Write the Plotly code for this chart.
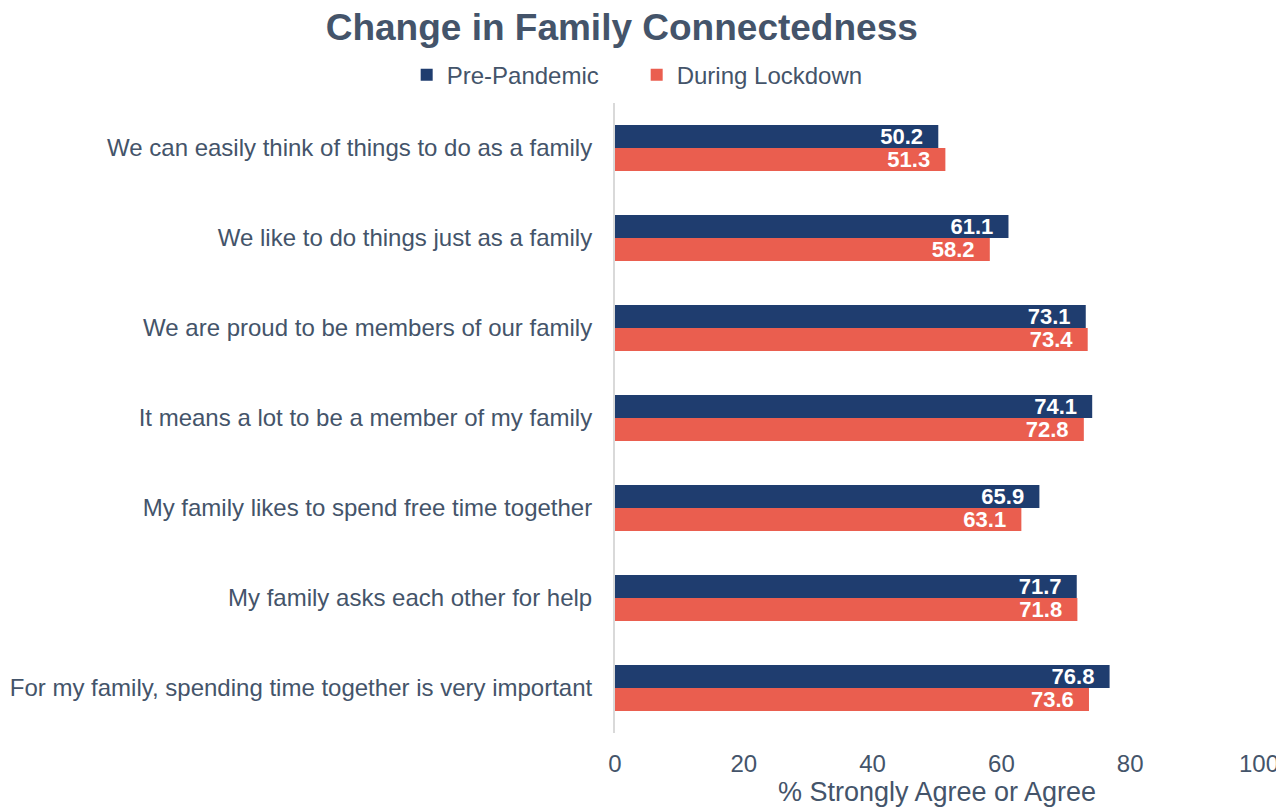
import plotly.graph_objects as go

categories = [
    "We can easily think of things to do as a family",
    "We like to do things just as a family",
    "We are proud to be members of our family",
    "It means a lot to be a member of my family",
    "My family likes to spend free time together",
    "My family asks each other for help",
    "For my family, spending time together is very important",
]
pre_pandemic = [50.2, 61.1, 73.1, 74.1, 65.9, 71.7, 76.8]
during_lockdown = [51.3, 58.2, 73.4, 72.8, 63.1, 71.8, 73.6]

NAVY = "#1F3D6F"
RED = "#EA5E4F"
TXT = "#44546A"
FONT = "Liberation Sans, Arial, sans-serif"

fig = go.Figure()
for name, vals, col in [("Pre-Pandemic", pre_pandemic, NAVY),
                        ("During Lockdown", during_lockdown, RED)]:
    fig.add_trace(go.Bar(
        y=categories, x=vals, orientation="h", name=name,
        marker=dict(color=col, line=dict(width=0)),
        text=[f"{v:.1f}\u00a0\u00a0" for v in vals],
        textposition="inside", insidetextanchor="end", constraintext="none",
        textfont=dict(color="white", size=22, family=FONT, weight="bold"),
    ))

fig.update_layout(
    width=1284, height=809,
    barmode="group", bargap=0.49, bargroupgap=0,
    plot_bgcolor="white", paper_bgcolor="white",
    font=dict(family=FONT, color=TXT, size=24),
    title=dict(text="<b>Change in Family Connectedness</b>", xref="container", x=0.478,
               xanchor="center", yref="container", y=0.9765, yanchor="middle",
               font=dict(size=37, color=TXT, family=FONT)),
    legend=dict(orientation="h", xref="container", x=0.3105, xanchor="left",
                yref="container", y=0.917, yanchor="middle",
                font=dict(size=24, color=TXT), traceorder="normal", itemwidth=30,
                entrywidth=185),
    margin=dict(l=607, r=33, t=95, b=84, autoexpand=False),
)
fig.update_xaxes(range=[0, 100], tickvals=[0, 20, 40, 60, 80, 100], showgrid=False,
                 zeroline=False, showline=False, ticks="outside", ticklen=9,
                 tickcolor="rgba(0,0,0,0)", automargin=False,
                 tickfont=dict(size=24, color=TXT),
                 title=dict(text="% Strongly Agree or Agree", font=dict(size=27, color=TXT), standoff=4))
fig.update_yaxes(autorange="reversed", showgrid=False, showline=True, linecolor="#D9D9D9",
                 linewidth=2, ticks="outside", ticklen=16, tickcolor="rgba(0,0,0,0)",
                 automargin=False, tickfont=dict(size=24, color=TXT))

fig.write_html("out.html")
